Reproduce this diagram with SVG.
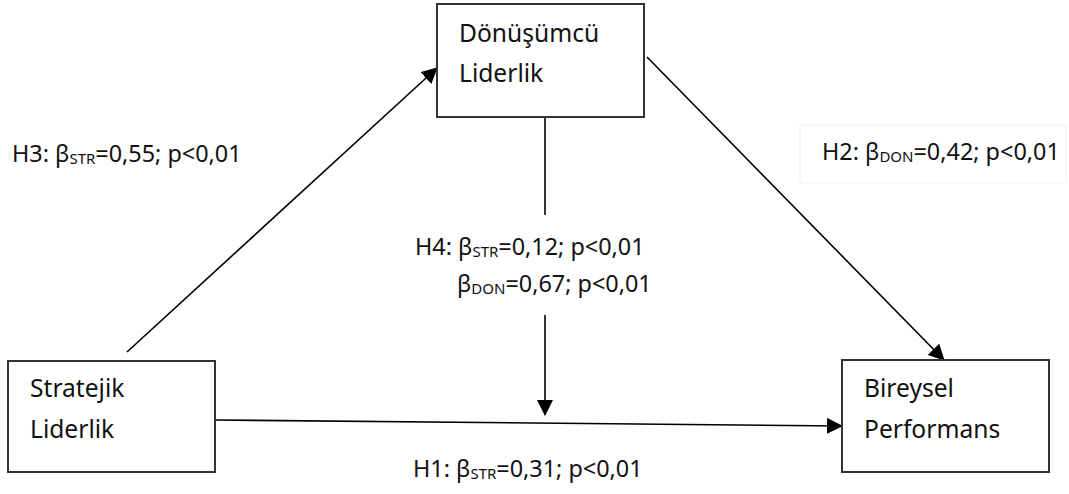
<svg xmlns="http://www.w3.org/2000/svg" width="1069" height="494" viewBox="0 0 1069 494">
<style>
.box{fill:#fff;stroke:#333;stroke-width:2}
.t{font-family:"Noto Sans","Open Sans",sans-serif;font-size:24.6px;fill:#111}
.l{font-family:"Noto Sans","Open Sans",sans-serif;font-size:23.4px;fill:#111}
.sub{font-size:15px}
.c{stroke:#000;stroke-width:1.6;fill:none}
</style>
<defs>
<marker id="ah" viewBox="0 0 16 16" refX="15" refY="8" markerWidth="16" markerHeight="16" markerUnits="userSpaceOnUse" orient="auto">
<path d="M0,0 L16,8 L0,16 Z" fill="#000"/>
</marker>
</defs>
<rect width="1069" height="494" fill="#fff"/>
<g id="connectors">
<line class="c" x1="127" y1="352" x2="437" y2="68" marker-end="url(#ah)"/>
<line class="c" x1="647" y1="57" x2="944" y2="360" marker-end="url(#ah)"/>
<line class="c" x1="215" y1="420" x2="842" y2="426" marker-end="url(#ah)"/>
<line class="c" x1="545" y1="118" x2="545" y2="215"/>
<line class="c" x1="545" y1="315" x2="545" y2="415" marker-end="url(#ah)"/>
</g>
<g id="node-donusumcu">
<rect class="box" x="437" y="4" width="207" height="113"/>
<text class="t" x="459" y="42">Dönüşümcü</text>
<text class="t" x="459" y="82">Liderlik</text>
</g>
<g id="node-stratejik">
<rect class="box" x="8" y="361" width="207" height="111"/>
<text class="t" x="30" y="397">Stratejik</text>
<text class="t" x="30" y="438">Liderlik</text>
</g>
<g id="node-bireysel">
<rect class="box" x="842" y="360" width="207" height="112"/>
<text class="t" x="864" y="397">Bireysel</text>
<text class="t" x="864" y="438">Performans</text>
</g>
<g id="label-h3">
<text class="l" x="12" y="162">H3: β<tspan class="sub" dy="2">STR</tspan><tspan dy="-2">=0,55; p&lt;0,01</tspan></text>
</g>
<g id="label-h2">
<rect x="800" y="125" width="266" height="58" fill="#fff" stroke="#f0f0f0" stroke-width="1"/>
<text class="l" x="822" y="160">H2: β<tspan class="sub" dy="2">DON</tspan><tspan dy="-2">=0,42; p&lt;0,01</tspan></text>
</g>
<g id="label-h4">
<text class="l" x="415" y="255">H4: β<tspan class="sub" dy="2">STR</tspan><tspan dy="-2">=0,12; p&lt;0,01</tspan></text>
<text class="l" x="457" y="292">β<tspan class="sub" dy="2">DON</tspan><tspan dy="-2">=0,67; p&lt;0,01</tspan></text>
</g>
<g id="label-h1">
<text class="l" x="413" y="477">H1: β<tspan class="sub" dy="2">STR</tspan><tspan dy="-2">=0,31; p&lt;0,01</tspan></text>
</g>
</svg>
